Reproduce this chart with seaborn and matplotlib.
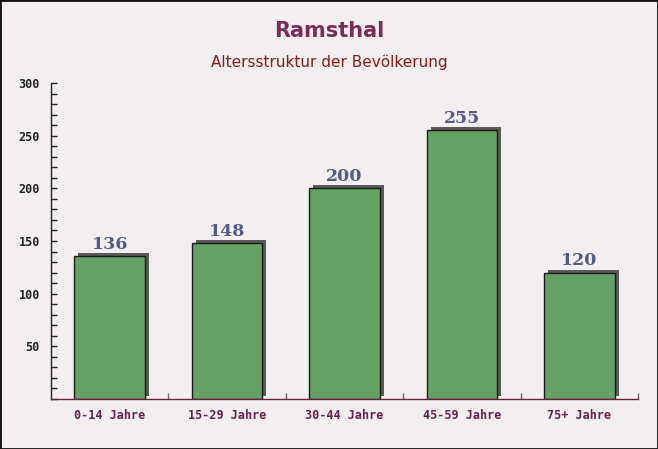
import numpy as np
import pandas as pd
import seaborn as sns
import matplotlib
matplotlib.use("Agg")
import matplotlib.pyplot as plt
import matplotlib.transforms as mtransforms
from matplotlib.ticker import MultipleLocator

categories = ["0-14 Jahre", "15-29 Jahre", "30-44 Jahre", "45-59 Jahre", "75+ Jahre"]
values = [136, 148, 200, 255, 120]
yticks = [50, 100, 150, 200, 250, 300]

sns.set_theme(style="white")
plt.rcParams['font.family'] = ['DejaVu Sans']

df = pd.DataFrame({"cat": categories, "val": values})

fig = plt.figure(figsize=(6.58, 4.49), dpi=100)
bg = "#f3eff0"
fig.patch.set_facecolor(bg)
ax = fig.add_axes([51/658, 50/449, 587/658, 316/449])
ax.set_facecolor("none")

# shadow
sns.barplot(data=df, x="cat", y="val", ax=ax, color="#5a5a5a", width=0.6,
            saturation=1, edgecolor="none", zorder=2)
shadow_patches = list(ax.patches)
off = mtransforms.ScaledTranslation(4/100, 3/100, fig.dpi_scale_trans)
for p in shadow_patches:
    p.set_transform(ax.transData + off)
    p.set_clip_on(False)

sns.barplot(data=df, x="cat", y="val", ax=ax, color="#66a266", width=0.6,
            saturation=1, edgecolor="#1a1a1a", linewidth=1, zorder=3)

for i, v in enumerate(values):
    ax.text(i, v + 3, str(v), ha="center", va="bottom", fontsize=12.5,
            fontweight="bold", family="DejaVu Serif", color="#555a88", zorder=4)

ax.set_ylim(0, 300)
ax.set_xlim(-0.5, 4.5)
ax.set_yticks(yticks)
ax.yaxis.set_minor_locator(MultipleLocator(10))
ax.set_xticks(range(len(categories)))
ax.set_xticklabels(categories)
ax.set_xticks(np.arange(0.5, 5, 1), minor=True)
ax.set_xlabel("")
ax.set_ylabel("")
for s in ["top", "right"]:
    ax.spines[s].set_visible(False)
ax.spines["left"].set_color("#222222")
ax.spines["bottom"].set_color("#6b2040")
ax.spines["left"].set_linewidth(1)
ax.spines["bottom"].set_linewidth(1)
ax.spines["bottom"].set_zorder(5)
ax.tick_params(axis="y", which="both", direction="in", length=4, width=1, color="#222222",
               labelsize=8.5, labelcolor="#222222", pad=8, left=True)
ax.tick_params(axis="x", which="major", length=0, labelsize=8.5, labelcolor="#6b2050", pad=7)
ax.tick_params(axis="x", which="minor", direction="in", length=4, width=1, color="#666666", bottom=True)
for lab in ax.get_yticklabels() + ax.get_xticklabels():
    lab.set_family("DejaVu Sans Mono")
    lab.set_fontweight("bold")

fig.text(0.5, 1 - 31/449, "Ramsthal", ha="center", va="center", fontsize=15,
         fontweight="bold", color="#7b2d58")
fig.text(0.5, 1 - 62/449, "Altersstruktur der Bevölkerung", ha="center", va="center",
         fontsize=11, color="#8b1a1a")

border = plt.Rectangle((0, 0), 1, 1, transform=fig.transFigure, fill=False,
                       edgecolor="#111111", linewidth=2, zorder=10)
fig.patches.append(border)

fig.savefig("out.png", dpi=100, facecolor=bg)
